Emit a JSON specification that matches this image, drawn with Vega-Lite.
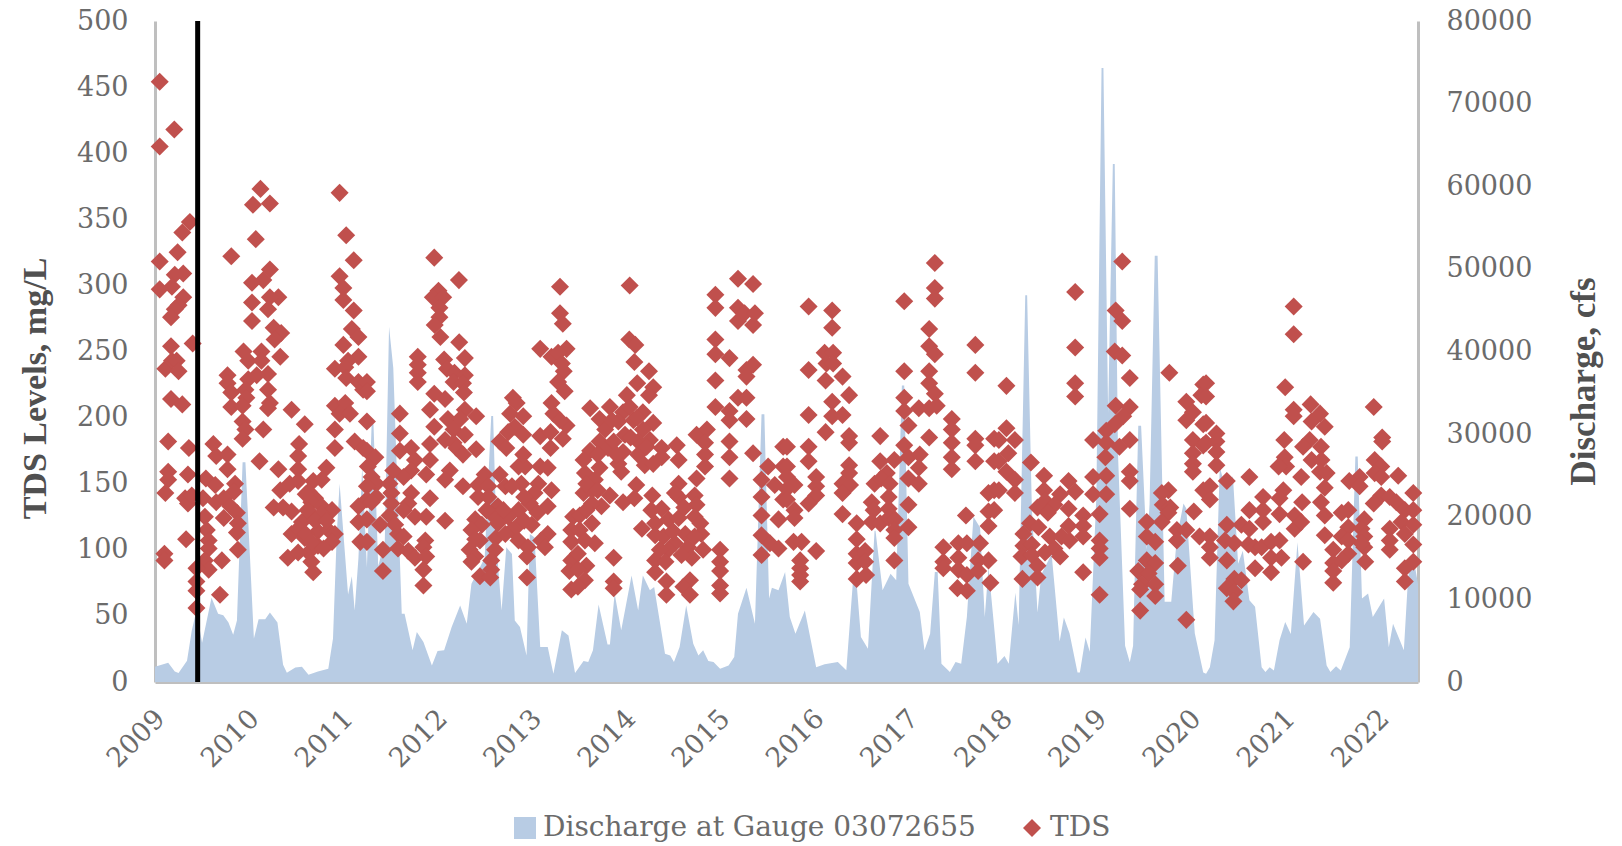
{"$schema":"https://vega.github.io/schema/vega-lite/v6.json","width":1263,"height":661,"autosize":{"type":"none"},"padding":{"left":155,"top":21,"right":204,"bottom":164},"background":"white","config":{"view":{"stroke":null},"font":"DejaVu Serif"},
"datasets":{"q":[{"t":2009.0,"q":1850},{"t":2009.14,"q":2330},{"t":2009.21,"q":1260},{"t":2009.25,"q":1100},{"t":2009.34,"q":2580},{"t":2009.39,"q":6200},{"t":2009.44,"q":8650},{"t":2009.5,"q":4760},{"t":2009.6,"q":10200},{"t":2009.67,"q":8260},{"t":2009.725,"q":8070},{"t":2009.78,"q":7190},{"t":2009.83,"q":5730},{"t":2009.87,"q":7440},{"t":2009.93,"q":26600},{"t":2009.96,"q":26600},{"t":2010.05,"q":5250},{"t":2010.1,"q":7580},{"t":2010.17,"q":7580},{"t":2010.22,"q":8400},{"t":2010.3,"q":7190},{"t":2010.36,"q":2090},{"t":2010.4,"q":1120},{"t":2010.49,"q":1750},{"t":2010.56,"q":1850},{"t":2010.63,"q":870},{"t":2010.73,"q":1260},{"t":2010.84,"q":1600},{"t":2010.89,"q":5250},{"t":2010.93,"q":17900},{"t":2010.96,"q":24000},{"t":2011.05,"q":10600},{"t":2011.09,"q":12800},{"t":2011.12,"q":8650},{"t":2011.16,"q":15000},{"t":2011.2,"q":26100},{"t":2011.25,"q":13900},{"t":2011.3,"q":31200},{"t":2011.32,"q":31200},{"t":2011.37,"q":14000},{"t":2011.44,"q":17100},{"t":2011.485,"q":43000},{"t":2011.53,"q":38000},{"t":2011.62,"q":8260},{"t":2011.65,"q":8260},{"t":2011.735,"q":3830},{"t":2011.78,"q":6050},{"t":2011.85,"q":4840},{"t":2011.94,"q":2000},{"t":2012.0,"q":3750},{"t":2012.07,"q":3830},{"t":2012.15,"q":6650},{"t":2012.24,"q":9270},{"t":2012.31,"q":7050},{"t":2012.36,"q":11900},{"t":2012.5,"q":15000},{"t":2012.57,"q":32200},{"t":2012.59,"q":32200},{"t":2012.63,"q":15900},{"t":2012.68,"q":8660},{"t":2012.73,"q":16300},{"t":2012.79,"q":15500},{"t":2012.82,"q":7450},{"t":2012.875,"q":6650},{"t":2012.945,"q":3220},{"t":2012.98,"q":17900},{"t":2013.03,"q":17500},{"t":2013.09,"q":4230},{"t":2013.17,"q":4230},{"t":2013.23,"q":1000},{"t":2013.32,"q":6250},{"t":2013.39,"q":5640},{"t":2013.46,"q":1100},{"t":2013.55,"q":2540},{"t":2013.6,"q":2420},{"t":2013.65,"q":3830},{"t":2013.71,"q":9390},{"t":2013.805,"q":4550},{"t":2013.83,"q":4550},{"t":2013.88,"q":10700},{"t":2013.95,"q":6250},{"t":2014.06,"q":12900},{"t":2014.13,"q":8660},{"t":2014.18,"q":12900},{"t":2014.255,"q":11100},{"t":2014.3,"q":11500},{"t":2014.415,"q":3430},{"t":2014.47,"q":3220},{"t":2014.51,"q":2420},{"t":2014.57,"q":4230},{"t":2014.64,"q":9270},{"t":2014.715,"q":4630},{"t":2014.77,"q":3220},{"t":2014.82,"q":3830},{"t":2014.875,"q":2540},{"t":2014.93,"q":2420},{"t":2015.0,"q":1610},{"t":2015.09,"q":2000},{"t":2015.15,"q":3020},{"t":2015.19,"q":8260},{"t":2015.28,"q":11400},{"t":2015.37,"q":7050},{"t":2015.44,"q":32400},{"t":2015.47,"q":32400},{"t":2015.52,"q":10100},{"t":2015.55,"q":11400},{"t":2015.62,"q":11100},{"t":2015.69,"q":13300},{"t":2015.74,"q":7860},{"t":2015.8,"q":5840},{"t":2015.9,"q":8660},{"t":2016.02,"q":1800},{"t":2016.11,"q":2140},{"t":2016.25,"q":2420},{"t":2016.34,"q":1410},{"t":2016.41,"q":12100},{"t":2016.45,"q":11900},{"t":2016.495,"q":5440},{"t":2016.57,"q":4030},{"t":2016.64,"q":18300},{"t":2016.65,"q":18300},{"t":2016.725,"q":11100},{"t":2016.81,"q":13100},{"t":2016.87,"q":12300},{"t":2016.93,"q":35900},{"t":2016.955,"q":35900},{"t":2017.0,"q":11900},{"t":2017.12,"q":8460},{"t":2017.17,"q":3830},{"t":2017.23,"q":5840},{"t":2017.28,"q":13300},{"t":2017.31,"q":13300},{"t":2017.35,"q":2220},{"t":2017.44,"q":1210},{"t":2017.5,"q":2420},{"t":2017.56,"q":2220},{"t":2017.62,"q":7860},{"t":2017.69,"q":20000},{"t":2017.76,"q":18700},{"t":2017.81,"q":7860},{"t":2017.85,"q":13900},{"t":2017.92,"q":5400},{"t":2017.945,"q":2200},{"t":2018.02,"q":3150},{"t":2018.065,"q":2200},{"t":2018.135,"q":10800},{"t":2018.17,"q":6900},{"t":2018.24,"q":46800},{"t":2018.26,"q":46800},{"t":2018.31,"q":21000},{"t":2018.37,"q":8400},{"t":2018.41,"q":13000},{"t":2018.52,"q":15500},{"t":2018.605,"q":4900},{"t":2018.65,"q":7800},{"t":2018.71,"q":5900},{"t":2018.795,"q":1150},{"t":2018.82,"q":1150},{"t":2018.88,"q":5400},{"t":2018.925,"q":3660},{"t":2018.995,"q":22500},{"t":2019.05,"q":74300},{"t":2019.07,"q":74300},{"t":2019.12,"q":32500},{"t":2019.17,"q":62700},{"t":2019.19,"q":62700},{"t":2019.225,"q":27500},{"t":2019.3,"q":4400},{"t":2019.35,"q":2400},{"t":2019.385,"q":4400},{"t":2019.44,"q":31000},{"t":2019.47,"q":31000},{"t":2019.53,"q":16000},{"t":2019.56,"q":21500},{"t":2019.615,"q":51600},{"t":2019.645,"q":51600},{"t":2019.72,"q":9700},{"t":2019.79,"q":9700},{"t":2019.85,"q":17500},{"t":2019.92,"q":21600},{"t":2019.95,"q":21000},{"t":2020.04,"q":5900},{"t":2020.13,"q":1150},{"t":2020.16,"q":1000},{"t":2020.2,"q":1800},{"t":2020.25,"q":5040},{"t":2020.305,"q":26000},{"t":2020.375,"q":23200},{"t":2020.445,"q":24900},{"t":2020.5,"q":14300},{"t":2020.55,"q":15900},{"t":2020.62,"q":9900},{"t":2020.68,"q":9100},{"t":2020.75,"q":1800},{"t":2020.79,"q":1200},{"t":2020.835,"q":1800},{"t":2020.88,"q":1400},{"t":2020.94,"q":5040},{"t":2021.0,"q":7250},{"t":2021.06,"q":5800},{"t":2021.13,"q":16900},{"t":2021.2,"q":6850},{"t":2021.3,"q":8460},{"t":2021.37,"q":7650},{"t":2021.44,"q":2000},{"t":2021.48,"q":1200},{"t":2021.54,"q":1900},{"t":2021.59,"q":1400},{"t":2021.685,"q":4200},{"t":2021.745,"q":27300},{"t":2021.77,"q":27300},{"t":2021.815,"q":10100},{"t":2021.88,"q":10700},{"t":2021.93,"q":7860},{"t":2022.05,"q":10100},{"t":2022.1,"q":4200},{"t":2022.145,"q":7050},{"t":2022.26,"q":3830},{"t":2022.305,"q":12700},{"t":2022.36,"q":15100},{"t":2022.41,"q":11900}],
"tds":[{"t":2009.05,"v":454},{"t":2009.205,"v":418},{"t":2009.05,"v":405},{"t":2009.37,"v":348},{"t":2009.29,"v":340},{"t":2009.24,"v":325},{"t":2009.05,"v":318},{"t":2009.3,"v":309},{"t":2009.21,"v":308},{"t":2009.18,"v":299},{"t":2009.05,"v":297},{"t":2009.3,"v":291},{"t":2009.25,"v":285},{"t":2009.21,"v":282},{"t":2009.17,"v":276},{"t":2009.17,"v":254},{"t":2009.4,"v":256},{"t":2009.11,"v":237},{"t":2009.18,"v":243},{"t":2009.23,"v":243},{"t":2009.25,"v":235},{"t":2009.17,"v":214},{"t":2009.29,"v":210},{"t":2009.14,"v":182},{"t":2009.36,"v":177},{"t":2009.14,"v":159},{"t":2009.14,"v":153},{"t":2009.35,"v":157},{"t":2009.11,"v":143},{"t":2009.32,"v":139},{"t":2009.35,"v":135},{"t":2009.39,"v":141},{"t":2009.33,"v":108},{"t":2009.1,"v":97},{"t":2009.1,"v":92},{"t":2009.62,"v":180},{"t":2009.65,"v":171},{"t":2009.77,"v":172},{"t":2009.77,"v":161},{"t":2009.54,"v":154},{"t":2009.64,"v":149},{"t":2009.85,"v":150},{"t":2009.84,"v":144},{"t":2009.51,"v":139},{"t":2009.65,"v":136},{"t":2009.73,"v":139},{"t":2009.8,"v":133},{"t":2009.53,"v":125},{"t":2009.73,"v":124},{"t":2009.87,"v":128},{"t":2009.88,"v":120},{"t":2009.87,"v":113},{"t":2009.55,"v":115},{"t":2009.57,"v":107},{"t":2009.57,"v":101},{"t":2009.88,"v":100},{"t":2009.53,"v":92},{"t":2009.71,"v":92},{"t":2009.57,"v":85},{"t":2009.44,"v":86},{"t":2009.44,"v":76},{"t":2009.44,"v":69},{"t":2009.69,"v":66},{"t":2009.44,"v":56},{"t":2010.12,"v":373},{"t":2010.04,"v":361},{"t":2010.22,"v":362},{"t":2010.07,"v":335},{"t":2009.81,"v":322},{"t":2010.22,"v":312},{"t":2010.15,"v":304},{"t":2010.03,"v":302},{"t":2010.31,"v":291},{"t":2010.22,"v":291},{"t":2010.03,"v":287},{"t":2010.2,"v":282},{"t":2010.03,"v":273},{"t":2010.26,"v":268},{"t":2010.34,"v":264},{"t":2010.27,"v":259},{"t":2010.33,"v":246},{"t":2009.94,"v":250},{"t":2009.99,"v":243},{"t":2010.13,"v":250},{"t":2010.13,"v":243},{"t":2010.2,"v":233},{"t":2009.77,"v":232},{"t":2009.77,"v":226},{"t":2010.08,"v":232},{"t":2009.99,"v":229},{"t":2009.81,"v":219},{"t":2009.96,"v":221},{"t":2010.2,"v":221},{"t":2009.97,"v":215},{"t":2009.81,"v":208},{"t":2009.93,"v":209},{"t":2010.22,"v":211},{"t":2010.2,"v":207},{"t":2010.45,"v":206},{"t":2010.59,"v":195},{"t":2009.93,"v":197},{"t":2009.96,"v":191},{"t":2009.93,"v":184},{"t":2010.15,"v":191},{"t":2010.53,"v":180},{"t":2010.52,"v":171},{"t":2010.11,"v":167},{"t":2010.52,"v":161},{"t":2010.31,"v":161},{"t":2010.82,"v":162},{"t":2010.52,"v":152},{"t":2010.43,"v":150},{"t":2010.33,"v":145},{"t":2010.68,"v":152},{"t":2010.77,"v":153},{"t":2010.63,"v":144},{"t":2010.7,"v":139},{"t":2010.26,"v":132},{"t":2010.36,"v":132},{"t":2010.45,"v":129},{"t":2010.66,"v":136},{"t":2010.77,"v":133},{"t":2010.88,"v":130},{"t":2010.56,"v":121},{"t":2010.66,"v":127},{"t":2010.77,"v":127},{"t":2010.45,"v":112},{"t":2010.52,"v":116},{"t":2010.59,"v":109},{"t":2010.73,"v":114},{"t":2010.84,"v":115},{"t":2010.91,"v":112},{"t":2010.88,"v":106},{"t":2010.73,"v":103},{"t":2010.63,"v":98},{"t":2010.41,"v":94},{"t":2010.52,"v":98},{"t":2010.66,"v":91},{"t":2010.79,"v":101},{"t":2010.68,"v":83},{"t":2010.6,"v":142},{"t":2010.62,"v":130},{"t":2010.7,"v":122},{"t":2010.6,"v":112},{"t":2010.82,"v":122},{"t":2010.66,"v":106},{"t":2010.96,"v":370},{"t":2011.03,"v":338},{"t":2011.11,"v":319},{"t":2010.96,"v":307},{"t":2011.0,"v":298},{"t":2011.0,"v":289},{"t":2011.11,"v":281},{"t":2011.09,"v":267},{"t":2011.16,"v":261},{"t":2011.0,"v":255},{"t":2011.16,"v":246},{"t":2011.05,"v":243},{"t":2010.91,"v":237},{"t":2011.02,"v":238},{"t":2011.03,"v":230},{"t":2011.16,"v":227},{"t":2011.21,"v":221},{"t":2010.91,"v":209},{"t":2011.02,"v":211},{"t":2010.96,"v":203},{"t":2011.07,"v":203},{"t":2010.91,"v":191},{"t":2010.91,"v":177},{"t":2011.12,"v":182},{"t":2011.21,"v":177},{"t":2011.16,"v":133},{"t":2011.16,"v":121},{"t":2011.18,"v":106},{"t":2011.25,"v":227},{"t":2011.25,"v":220},{"t":2011.25,"v":197},{"t":2011.25,"v":175},{"t":2011.34,"v":170},{"t":2011.26,"v":163},{"t":2011.3,"v":155},{"t":2011.35,"v":150},{"t":2011.25,"v":148},{"t":2011.35,"v":140},{"t":2011.25,"v":138},{"t":2011.3,"v":136},{"t":2011.25,"v":123},{"t":2011.39,"v":119},{"t":2011.25,"v":106},{"t":2011.42,"v":100},{"t":2011.42,"v":84},{"t":2011.965,"v":321},{"t":2012.227,"v":304},{"t":2012.01,"v":296},{"t":2011.95,"v":291},{"t":2012.06,"v":291},{"t":2012.02,"v":283},{"t":2012.02,"v":276},{"t":2011.97,"v":270},{"t":2012.03,"v":261},{"t":2012.23,"v":257},{"t":2012.29,"v":245},{"t":2011.79,"v":246},{"t":2011.79,"v":240},{"t":2011.79,"v":234},{"t":2011.79,"v":227},{"t":2012.07,"v":244},{"t":2012.1,"v":237},{"t":2012.18,"v":234},{"t":2012.29,"v":232},{"t":2012.17,"v":227},{"t":2012.27,"v":226},{"t":2012.28,"v":219},{"t":2011.965,"v":218},{"t":2012.08,"v":214},{"t":2011.92,"v":206},{"t":2012.29,"v":206},{"t":2012.41,"v":201},{"t":2012.11,"v":199},{"t":2012.24,"v":199},{"t":2011.6,"v":203},{"t":2011.965,"v":193},{"t":2012.17,"v":191},{"t":2011.6,"v":188},{"t":2012.29,"v":187},{"t":2012.08,"v":183},{"t":2012.17,"v":181},{"t":2011.92,"v":180},{"t":2011.6,"v":175},{"t":2011.72,"v":177},{"t":2012.41,"v":176},{"t":2012.2,"v":177},{"t":2012.27,"v":172},{"t":2011.76,"v":168},{"t":2011.92,"v":168},{"t":2011.72,"v":160},{"t":2011.88,"v":157},{"t":2011.64,"v":155},{"t":2011.53,"v":160},{"t":2012.13,"v":160},{"t":2012.08,"v":153},{"t":2012.27,"v":148},{"t":2011.49,"v":150},{"t":2011.51,"v":143},{"t":2011.72,"v":143},{"t":2011.92,"v":139},{"t":2011.51,"v":135},{"t":2011.69,"v":135},{"t":2011.64,"v":130},{"t":2011.49,"v":126},{"t":2011.76,"v":125},{"t":2011.88,"v":125},{"t":2012.08,"v":122},{"t":2011.55,"v":119},{"t":2011.58,"v":112},{"t":2011.64,"v":110},{"t":2011.87,"v":107},{"t":2011.85,"v":102},{"t":2011.58,"v":101},{"t":2011.69,"v":99},{"t":2011.76,"v":94},{"t":2011.88,"v":95},{"t":2011.85,"v":85},{"t":2011.85,"v":73},{"t":2012.5,"v":157},{"t":2012.43,"v":149},{"t":2012.54,"v":148},{"t":2012.43,"v":140},{"t":2012.54,"v":140},{"t":2012.66,"v":157},{"t":2012.72,"v":148},{"t":2012.86,"v":163},{"t":2012.93,"v":163},{"t":2013.09,"v":163},{"t":2012.91,"v":172},{"t":2012.8,"v":215},{"t":2012.84,"v":211},{"t":2012.91,"v":201},{"t":2012.77,"v":203},{"t":2012.82,"v":193},{"t":2012.75,"v":189},{"t":2012.91,"v":187},{"t":2012.66,"v":182},{"t":2012.73,"v":177},{"t":2013.09,"v":186},{"t":2013.2,"v":189},{"t":2013.33,"v":184},{"t":2013.37,"v":194},{"t":2013.2,"v":177},{"t":2013.17,"v":162},{"t":2013.21,"v":145},{"t":2013.17,"v":133},{"t":2012.89,"v":150},{"t":2012.79,"v":148},{"t":2013.07,"v":150},{"t":2013.03,"v":143},{"t":2012.64,"v":133},{"t":2012.86,"v":130},{"t":2012.98,"v":135},{"t":2012.75,"v":125},{"t":2012.59,"v":126},{"t":2012.4,"v":123},{"t":2012.47,"v":119},{"t":2012.64,"v":120},{"t":2012.86,"v":119},{"t":2013.0,"v":119},{"t":2012.79,"v":115},{"t":2012.36,"v":115},{"t":2012.45,"v":107},{"t":2012.62,"v":109},{"t":2013.17,"v":112},{"t":2013.1,"v":107},{"t":2013.14,"v":102},{"t":2012.86,"v":107},{"t":2012.96,"v":102},{"t":2012.34,"v":100},{"t":2012.4,"v":95},{"t":2012.61,"v":100},{"t":2012.95,"v":95},{"t":2012.57,"v":92},{"t":2012.36,"v":91},{"t":2012.57,"v":85},{"t":2012.45,"v":80},{"t":2012.56,"v":79},{"t":2012.95,"v":79},{"t":2012.7,"v":130},{"t":2012.92,"v":140},{"t":2013.06,"v":128},{"t":2012.72,"v":112},{"t":2012.92,"v":122},{"t":2012.52,"v":130},{"t":2012.4,"v":108},{"t":2013.3,"v":299},{"t":2013.3,"v":279},{"t":2013.33,"v":271},{"t":2013.09,"v":252},{"t":2013.21,"v":246},{"t":2013.37,"v":252},{"t":2013.28,"v":249},{"t":2013.32,"v":241},{"t":2013.34,"v":235},{"t":2013.28,"v":227},{"t":2013.35,"v":220},{"t":2013.21,"v":211},{"t":2013.23,"v":203},{"t":2013.3,"v":198},{"t":2013.44,"v":125},{"t":2013.42,"v":115},{"t":2013.42,"v":106},{"t":2013.42,"v":92},{"t":2013.4,"v":84},{"t":2013.42,"v":70},{"t":2014.04,"v":300},{"t":2014.036,"v":259},{"t":2014.1,"v":255},{"t":2014.09,"v":242},{"t":2014.245,"v":235},{"t":2014.12,"v":226},{"t":2014.29,"v":223},{"t":2014.01,"v":217},{"t":2014.245,"v":217},{"t":2013.62,"v":207},{"t":2013.83,"v":208},{"t":2013.72,"v":199},{"t":2013.97,"v":204},{"t":2014.18,"v":204},{"t":2013.92,"v":197},{"t":2014.08,"v":198},{"t":2014.29,"v":196},{"t":2013.78,"v":191},{"t":2013.99,"v":187},{"t":2014.18,"v":191},{"t":2013.72,"v":182},{"t":2014.13,"v":182},{"t":2014.255,"v":183},{"t":2013.62,"v":175},{"t":2013.81,"v":177},{"t":2013.97,"v":174},{"t":2014.13,"v":172},{"t":2014.38,"v":177},{"t":2014.54,"v":179},{"t":2014.38,"v":170},{"t":2014.56,"v":168},{"t":2014.2,"v":164},{"t":2014.29,"v":165},{"t":2013.565,"v":158},{"t":2013.72,"v":162},{"t":2013.92,"v":165},{"t":2013.95,"v":159},{"t":2013.67,"v":153},{"t":2013.55,"v":143},{"t":2013.64,"v":145},{"t":2013.83,"v":141},{"t":2013.74,"v":133},{"t":2013.64,"v":135},{"t":2013.97,"v":136},{"t":2014.11,"v":149},{"t":2014.09,"v":139},{"t":2014.28,"v":141},{"t":2013.51,"v":126},{"t":2013.64,"v":120},{"t":2013.51,"v":115},{"t":2013.67,"v":105},{"t":2013.565,"v":107},{"t":2013.49,"v":97},{"t":2013.58,"v":88},{"t":2013.49,"v":85},{"t":2013.565,"v":77},{"t":2013.49,"v":72},{"t":2013.87,"v":94},{"t":2013.87,"v":76},{"t":2013.87,"v":71},{"t":2013.55,"v":168},{"t":2013.7,"v":172},{"t":2013.58,"v":150},{"t":2013.7,"v":145},{"t":2013.58,"v":130},{"t":2013.85,"v":198},{"t":2013.87,"v":182},{"t":2014.05,"v":185},{"t":2014.12,"v":200},{"t":2014.22,"v":178},{"t":2013.9,"v":172},{"t":2014.04,"v":208},{"t":2014.56,"v":150},{"t":2014.75,"v":154},{"t":2014.73,"v":141},{"t":2014.56,"v":140},{"t":2014.75,"v":134},{"t":2014.52,"v":143},{"t":2014.27,"v":130},{"t":2014.38,"v":131},{"t":2014.73,"v":125},{"t":2014.17,"v":116},{"t":2014.31,"v":120},{"t":2014.45,"v":123},{"t":2014.56,"v":124},{"t":2014.79,"v":120},{"t":2014.31,"v":111},{"t":2014.4,"v":110},{"t":2014.8,"v":112},{"t":2014.63,"v":112},{"t":2014.73,"v":110},{"t":2014.52,"v":105},{"t":2014.66,"v":102},{"t":2014.45,"v":100},{"t":2014.82,"v":100},{"t":2014.7,"v":94},{"t":2014.31,"v":92},{"t":2014.42,"v":91},{"t":2014.59,"v":96},{"t":2014.31,"v":83},{"t":2014.43,"v":76},{"t":2014.43,"v":66},{"t":2014.68,"v":77},{"t":2014.61,"v":72},{"t":2014.68,"v":66},{"t":2014.36,"v":100},{"t":2014.5,"v":114},{"t":2014.62,"v":132},{"t":2014.75,"v":187},{"t":2014.86,"v":191},{"t":2014.84,"v":181},{"t":2014.84,"v":172},{"t":2014.84,"v":163},{"t":2015.0,"v":100},{"t":2015.0,"v":91},{"t":2015.0,"v":84},{"t":2015.0,"v":73},{"t":2015.0,"v":67},{"t":2014.95,"v":293},{"t":2014.95,"v":283},{"t":2014.95,"v":259},{"t":2014.95,"v":248},{"t":2015.1,"v":245},{"t":2014.95,"v":228},{"t":2014.95,"v":208},{"t":2015.1,"v":205},{"t":2015.1,"v":198},{"t":2015.1,"v":182},{"t":2015.1,"v":170},{"t":2015.1,"v":154},{"t":2015.19,"v":305},{"t":2015.35,"v":301},{"t":2015.19,"v":283},{"t":2015.26,"v":279},{"t":2015.37,"v":279},{"t":2015.19,"v":273},{"t":2015.35,"v":270},{"t":2015.35,"v":240},{"t":2015.28,"v":236},{"t":2015.28,"v":231},{"t":2015.19,"v":215},{"t":2015.28,"v":215},{"t":2015.28,"v":199},{"t":2015.35,"v":173},{"t":2015.51,"v":163},{"t":2015.44,"v":153},{"t":2015.58,"v":149},{"t":2015.44,"v":140},{"t":2015.44,"v":126},{"t":2015.62,"v":123},{"t":2015.44,"v":111},{"t":2015.53,"v":105},{"t":2015.62,"v":101},{"t":2015.44,"v":96},{"t":2015.67,"v":178},{"t":2015.67,"v":163},{"t":2015.67,"v":138},{"t":2015.94,"v":284},{"t":2016.19,"v":281},{"t":2016.19,"v":268},{"t":2016.11,"v":249},{"t":2016.2,"v":249},{"t":2016.13,"v":241},{"t":2016.2,"v":241},{"t":2015.94,"v":236},{"t":2016.12,"v":228},{"t":2016.3,"v":231},{"t":2016.37,"v":217},{"t":2016.19,"v":212},{"t":2015.94,"v":202},{"t":2016.19,"v":201},{"t":2016.3,"v":202},{"t":2016.12,"v":189},{"t":2016.37,"v":186},{"t":2016.37,"v":181},{"t":2015.71,"v":178},{"t":2015.94,"v":178},{"t":2015.94,"v":167},{"t":2015.71,"v":163},{"t":2015.71,"v":155},{"t":2016.02,"v":155},{"t":2015.79,"v":149},{"t":2016.02,"v":148},{"t":2015.71,"v":146},{"t":2016.02,"v":141},{"t":2015.71,"v":138},{"t":2015.94,"v":135},{"t":2015.79,"v":130},{"t":2015.79,"v":124},{"t":2015.78,"v":106},{"t":2015.865,"v":106},{"t":2016.02,"v":99},{"t":2015.85,"v":92},{"t":2015.85,"v":86},{"t":2015.85,"v":81},{"t":2015.85,"v":76},{"t":2016.37,"v":164},{"t":2016.37,"v":158},{"t":2016.3,"v":150},{"t":2016.38,"v":149},{"t":2016.3,"v":143},{"t":2016.3,"v":127},{"t":2016.45,"v":120},{"t":2016.45,"v":108},{"t":2016.45,"v":97},{"t":2016.54,"v":99},{"t":2016.45,"v":90},{"t":2016.54,"v":91},{"t":2016.45,"v":78},{"t":2016.55,"v":81},{"t":2016.7,"v":186},{"t":2016.85,"v":168},{"t":2016.7,"v":167},{"t":2016.77,"v":158},{"t":2016.64,"v":150},{"t":2016.71,"v":154},{"t":2016.8,"v":150},{"t":2016.61,"v":136},{"t":2016.79,"v":140},{"t":2016.63,"v":130},{"t":2016.79,"v":131},{"t":2016.61,"v":121},{"t":2016.7,"v":120},{"t":2016.79,"v":124},{"t":2016.855,"v":123},{"t":2016.85,"v":115},{"t":2016.85,"v":109},{"t":2016.85,"v":92},{"t":2016.955,"v":288},{"t":2016.955,"v":235},{"t":2016.955,"v":215},{"t":2016.955,"v":205},{"t":2017.0,"v":194},{"t":2016.955,"v":179},{"t":2017.0,"v":170},{"t":2017.0,"v":154},{"t":2017.0,"v":134},{"t":2017.0,"v":117},{"t":2017.28,"v":317},{"t":2017.28,"v":298},{"t":2017.28,"v":290},{"t":2017.22,"v":267},{"t":2017.22,"v":254},{"t":2017.28,"v":248},{"t":2017.22,"v":235},{"t":2017.22,"v":226},{"t":2017.28,"v":218},{"t":2017.11,"v":207},{"t":2017.22,"v":207},{"t":2017.3,"v":209},{"t":2017.22,"v":185},{"t":2017.12,"v":172},{"t":2017.11,"v":162},{"t":2017.11,"v":150},{"t":2017.46,"v":199},{"t":2017.46,"v":191},{"t":2017.46,"v":181},{"t":2017.46,"v":170},{"t":2017.46,"v":161},{"t":2017.71,"v":255},{"t":2017.71,"v":234},{"t":2017.71,"v":184},{"t":2017.71,"v":179},{"t":2017.71,"v":167},{"t":2017.91,"v":184},{"t":2017.91,"v":167},{"t":2017.85,"v":143},{"t":2017.91,"v":145},{"t":2017.85,"v":129},{"t":2017.85,"v":118},{"t":2017.91,"v":130},{"t":2017.61,"v":126},{"t":2017.37,"v":102},{"t":2017.53,"v":105},{"t":2017.62,"v":105},{"t":2017.76,"v":105},{"t":2017.37,"v":91},{"t":2017.53,"v":94},{"t":2017.37,"v":86},{"t":2017.53,"v":85},{"t":2017.62,"v":81},{"t":2017.74,"v":92},{"t":2017.74,"v":84},{"t":2017.85,"v":92},{"t":2017.87,"v":75},{"t":2017.52,"v":71},{"t":2017.62,"v":69},{"t":2018.04,"v":224},{"t":2018.04,"v":192},{"t":2017.96,"v":183},{"t":2018.13,"v":183},{"t":2018.06,"v":173},{"t":2017.96,"v":167},{"t":2018.04,"v":159},{"t":2018.13,"v":153},{"t":2018.13,"v":143},{"t":2017.96,"v":145},{"t":2018.3,"v":166},{"t":2018.44,"v":156},{"t":2018.44,"v":145},{"t":2018.7,"v":152},{"t":2018.77,"v":144},{"t":2018.61,"v":142},{"t":2018.37,"v":132},{"t":2018.45,"v":137},{"t":2018.7,"v":131},{"t":2018.55,"v":134},{"t":2018.48,"v":128},{"t":2018.29,"v":120},{"t":2018.22,"v":112},{"t":2018.38,"v":117},{"t":2018.7,"v":118},{"t":2018.855,"v":126},{"t":2018.855,"v":118},{"t":2018.855,"v":110},{"t":2018.5,"v":110},{"t":2018.625,"v":110},{"t":2018.22,"v":103},{"t":2018.31,"v":104},{"t":2018.71,"v":107},{"t":2018.2,"v":95},{"t":2018.31,"v":96},{"t":2018.45,"v":98},{"t":2018.55,"v":101},{"t":2018.61,"v":95},{"t":2018.21,"v":78},{"t":2018.37,"v":88},{"t":2018.37,"v":79},{"t":2018.855,"v":83},{"t":2018.77,"v":295},{"t":2018.77,"v":253},{"t":2018.77,"v":226},{"t":2018.77,"v":216},{"t":2018.96,"v":183},{"t":2019.1,"v":181},{"t":2018.96,"v":155},{"t":2019.1,"v":156},{"t":2018.96,"v":142},{"t":2019.1,"v":142},{"t":2019.03,"v":127},{"t":2019.03,"v":107},{"t":2019.03,"v":101},{"t":2019.03,"v":94},{"t":2019.03,"v":66},{"t":2019.27,"v":318},{"t":2019.2,"v":281},{"t":2019.27,"v":273},{"t":2019.19,"v":250},{"t":2019.27,"v":247},{"t":2019.35,"v":230},{"t":2019.2,"v":209},{"t":2019.35,"v":208},{"t":2019.28,"v":201},{"t":2019.19,"v":195},{"t":2019.1,"v":190},{"t":2019.35,"v":183},{"t":2019.24,"v":178},{"t":2019.35,"v":159},{"t":2019.35,"v":152},{"t":2019.35,"v":131},{"t":2019.09,"v":170},{"t":2019.53,"v":121},{"t":2019.53,"v":110},{"t":2019.62,"v":106},{"t":2019.76,"v":145},{"t":2019.69,"v":143},{"t":2019.7,"v":134},{"t":2019.78,"v":132},{"t":2019.76,"v":128},{"t":2019.69,"v":121},{"t":2019.85,"v":115},{"t":2019.95,"v":115},{"t":2019.85,"v":107},{"t":2020.03,"v":129},{"t":2019.95,"v":212},{"t":2020.02,"v":204},{"t":2019.95,"v":198},{"t":2020.13,"v":225},{"t":2020.11,"v":217},{"t":2020.13,"v":195},{"t":2020.02,"v":183},{"t":2020.13,"v":179},{"t":2020.02,"v":173},{"t":2020.02,"v":165},{"t":2020.02,"v":159},{"t":2020.13,"v":145},{"t":2020.09,"v":110},{"t":2019.86,"v":88},{"t":2019.53,"v":92},{"t":2019.62,"v":90},{"t":2019.44,"v":84},{"t":2019.55,"v":82},{"t":2019.48,"v":74},{"t":2019.62,"v":74},{"t":2019.62,"v":65},{"t":2019.46,"v":70},{"t":2019.46,"v":54},{"t":2019.95,"v":47},{"t":2019.77,"v":234},{"t":2020.16,"v":226},{"t":2020.16,"v":216},{"t":2020.16,"v":196},{"t":2020.27,"v":188},{"t":2020.16,"v":181},{"t":2020.27,"v":182},{"t":2020.27,"v":174},{"t":2020.27,"v":164},{"t":2020.38,"v":152},{"t":2020.2,"v":148},{"t":2020.2,"v":138},{"t":2020.62,"v":155},{"t":2020.2,"v":110},{"t":2020.2,"v":102},{"t":2020.2,"v":94},{"t":2020.38,"v":119},{"t":2020.36,"v":107},{"t":2020.535,"v":119},{"t":2020.62,"v":116},{"t":2020.46,"v":105},{"t":2020.61,"v":104},{"t":2020.38,"v":92},{"t":2020.46,"v":78},{"t":2020.535,"v":77},{"t":2020.38,"v":71},{"t":2020.46,"v":68},{"t":2020.45,"v":61},{"t":2020.62,"v":130},{"t":2020.765,"v":140},{"t":2020.765,"v":130},{"t":2020.765,"v":121},{"t":2020.68,"v":102},{"t":2020.75,"v":102},{"t":2020.68,"v":86},{"t":2020.85,"v":106},{"t":2020.94,"v":107},{"t":2020.85,"v":94},{"t":2020.96,"v":94},{"t":2020.85,"v":83},{"t":2020.98,"v":145},{"t":2020.94,"v":139},{"t":2020.94,"v":127},{"t":2021.1,"v":126},{"t":2021.18,"v":136},{"t":2021.17,"v":155},{"t":2020.99,"v":183},{"t":2020.995,"v":170},{"t":2021.01,"v":163},{"t":2020.93,"v":163},{"t":2021.09,"v":284},{"t":2021.09,"v":263},{"t":2021.0,"v":223},{"t":2021.09,"v":206},{"t":2021.09,"v":201},{"t":2021.1,"v":116},{"t":2021.17,"v":121},{"t":2021.19,"v":91},{"t":2021.27,"v":210},{"t":2021.37,"v":203},{"t":2021.28,"v":197},{"t":2021.42,"v":193},{"t":2021.26,"v":183},{"t":2021.19,"v":178},{"t":2021.38,"v":178},{"t":2021.28,"v":168},{"t":2021.385,"v":168},{"t":2021.37,"v":159},{"t":2021.44,"v":158},{"t":2021.42,"v":147},{"t":2021.38,"v":136},{"t":2021.42,"v":126},{"t":2021.42,"v":111},{"t":2021.51,"v":100},{"t":2021.67,"v":130},{"t":2021.6,"v":128},{"t":2021.67,"v":117},{"t":2021.6,"v":110},{"t":2021.67,"v":107},{"t":2021.67,"v":97},{"t":2021.6,"v":92},{"t":2021.51,"v":90},{"t":2021.51,"v":84},{"t":2021.51,"v":75},{"t":2021.79,"v":155},{"t":2021.68,"v":152},{"t":2021.79,"v":148},{"t":2021.84,"v":123},{"t":2021.81,"v":116},{"t":2021.84,"v":110},{"t":2021.84,"v":102},{"t":2021.81,"v":105},{"t":2021.85,"v":91},{"t":2021.94,"v":208},{"t":2022.03,"v":185},{"t":2022.03,"v":182},{"t":2021.95,"v":168},{"t":2022.02,"v":163},{"t":2021.95,"v":158},{"t":2022.2,"v":156},{"t":2022.02,"v":155},{"t":2022.02,"v":141},{"t":2021.94,"v":135},{"t":2022.11,"v":140},{"t":2022.18,"v":136},{"t":2022.36,"v":143},{"t":2022.27,"v":130},{"t":2022.36,"v":130},{"t":2022.235,"v":121},{"t":2022.11,"v":116},{"t":2022.36,"v":119},{"t":2022.27,"v":112},{"t":2022.11,"v":107},{"t":2022.11,"v":100},{"t":2022.36,"v":104},{"t":2022.27,"v":86},{"t":2022.36,"v":91},{"t":2022.27,"v":76}]},
"layer":[
{"data":{"name":"q"},"mark":{"type":"area","color":"#b8cce4","interpolate":"linear"},"encoding":{
"x":{"field":"t","type":"quantitative","title":null,"scale":{"domain":[2009,2022.41],"nice":false,"zero":false},"axis":{"values":[2009,2010,2011,2012,2013,2014,2015,2016,2017,2018,2019,2020,2021,2022],"format":"d","labelAngle":-45,"labelFontSize":27,"labelColor":"#6b6b6b","labelFont":"DejaVu Serif","labelPadding":23,"labelOffset":-4,"ticks":false,"grid":false,"domainColor":"#bfbfbf","domainWidth":3,"labelOverlap":false}},
"y":{"field":"q","type":"quantitative","title":"Discharge, cfs","scale":{"domain":[0,80000],"nice":false},"axis":{"orient":"right","values":[0,10000,20000,30000,40000,50000,60000,70000,80000],"format":"d","labelFontSize":27,"labelColor":"#6b6b6b","labelFont":"DejaVu Serif","labelPadding":28,"ticks":false,"grid":false,"domainColor":"#bfbfbf","domainWidth":3,"titleFontSize":35,"titleFont":"Liberation Serif","titleFontWeight":"bold","titleColor":"#505050","titleAngle":270,"titleX":165,"titleY":360,"titleAlign":"center","titleBaseline":"middle"}}}},
{"data":{"name":"tds"},"mark":{"type":"point","filled":true,"opacity":1,"size":484},"encoding":{
"x":{"field":"t","type":"quantitative"},
"y":{"field":"v","type":"quantitative","title":"TDS Levels, mg/L","scale":{"domain":[0,500],"nice":false},"axis":{"orient":"left","values":[0,50,100,150,200,250,300,350,400,450,500],"labelFontSize":27,"labelColor":"#6b6b6b","labelFont":"DejaVu Serif","labelPadding":27,"ticks":false,"grid":false,"domainColor":"#bfbfbf","domainWidth":3,"titleFontSize":34,"titleFont":"Liberation Serif","titleFontWeight":"bold","titleColor":"#505050","titleAngle":270,"titleX":-120,"titleY":367,"titleAlign":"center","titleBaseline":"middle"}},
"color":{"datum":"TDS","scale":{"domain":["Discharge at Gauge 03072655","TDS"],"range":["#b8cce4","#c0504d"]},"legend":{"title":null,"orient":"none","legendX":356,"legendY":793,"direction":"horizontal","labelFontSize":28,"labelFont":"DejaVu Serif","labelColor":"#6b6b6b","labelLimit":600,"columnPadding":42,"symbolOpacity":1,"symbolStrokeWidth":0,"symbolSize":484}},
"shape":{"datum":"TDS","scale":{"domain":["Discharge at Gauge 03072655","TDS"],"range":["M-1,-1H1V1H-1Z","M0,-0.82L0.82,0L0,0.82L-0.82,0Z"]},"legend":{"title":null,"orient":"none","legendX":356,"legendY":793,"direction":"horizontal","labelFontSize":28,"labelFont":"DejaVu Serif","labelColor":"#6b6b6b","labelLimit":600,"columnPadding":42,"symbolOpacity":1,"symbolStrokeWidth":0,"symbolSize":484}}}},
{"data":{"values":[{"marker":2009.453}]},"mark":{"type":"rule","color":"#000000","strokeWidth":5},"encoding":{"x":{"field":"marker","type":"quantitative"}}}
],"resolve":{"scale":{"y":"independent"}}}
